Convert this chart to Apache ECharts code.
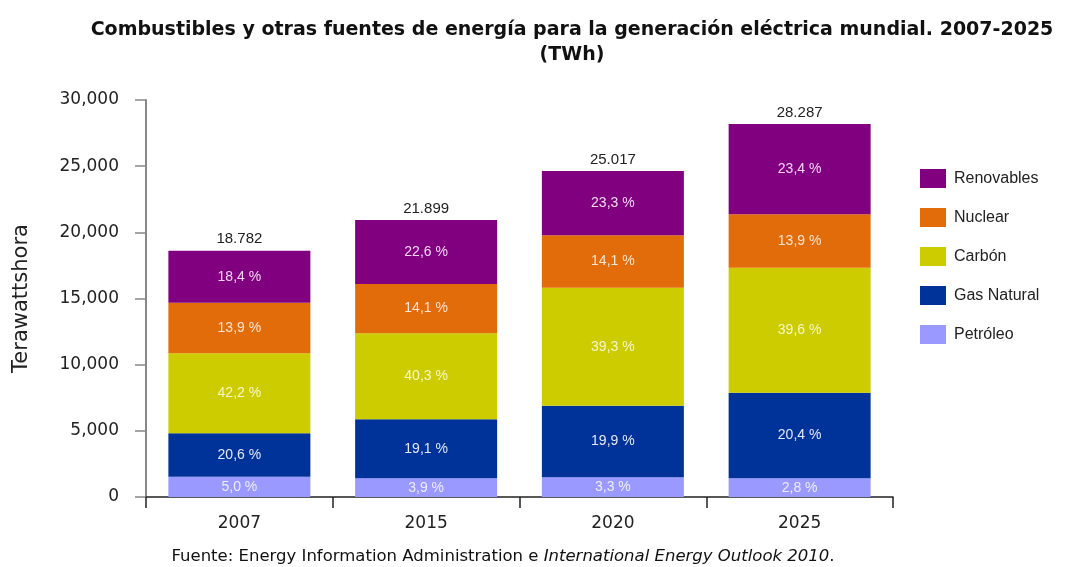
<!DOCTYPE html>
<html>
<head>
<meta charset="utf-8">
<script src="https://cdn.jsdelivr.net/npm/echarts@6/dist/echarts.min.js"></script>
<style>
  html, body { margin: 0; padding: 0; background: #fff; }
  #chart { width: 1078px; height: 567px; }
</style>
</head>
<body>
<div id="chart"></div>
<script>
// values (TWh)
const years = ['2007', '2015', '2020', '2025'];
const petroleo = [1530, 1410, 1490, 1410];
const gasNatural = [3280, 4460, 5410, 6470];
const carbon = [6050, 6500, 8920, 9450];
const nuclear = [3820, 3730, 3960, 4030];
const renovables = [3930, 4830, 4860, 6830];

// text printed on the chart
const totals = ['18.782', '21.899', '25.017', '28.287'];
const pctPetroleo = ['5,0 %', '3,9 %', '3,3 %', '2,8 %'];
const pctGas = ['20,6 %', '19,1 %', '19,9 %', '20,4 %'];
const pctCarbon = ['42,2 %', '40,3 %', '39,3 %', '39,6 %'];
const pctNuclear = ['13,9 %', '14,1 %', '14,1 %', '13,9 %'];
const pctRenovables = ['18,4 %', '22,6 %', '23,3 %', '23,4 %'];
const yTicks = [0, 5000, 10000, 15000, 20000, 25000, 30000];

const labelFont = '"Liberation Sans", Arial, sans-serif';
const axisFont = '"DejaVu Sans", sans-serif';

function segment(name, data, pct, color, labelColor) {
  return {
    name: name,
    type: 'bar',
    stack: 'total',
    barWidth: 142,
    data: data,
    itemStyle: { color: color },
    label: {
      show: true,
      position: 'inside',
      color: labelColor,
      fontFamily: labelFont,
      fontSize: 14,
      formatter: (p) => pct[p.dataIndex]
    },
    emphasis: { disabled: true }
  };
}

const chart = echarts.init(document.getElementById('chart'), null, { renderer: 'canvas' });

chart.setOption({
  animation: false,
  backgroundColor: '#ffffff',
  title: [
    {
      text: 'Combustibles y otras fuentes de energía para la generación eléctrica mundial. 2007-2025\n(TWh)',
      left: 567,
      top: 13,
      textAlign: 'center',
      textStyle: {
        fontFamily: axisFont,
        fontWeight: 'bold',
        fontSize: 19,
        lineHeight: 25,
        color: '#111'
      }
    },
    {
      text: '{n|Fuente: Energy Information Administration e }{i|International Energy Outlook 2010}{n|.}',
      left: 503,
      top: 548,
      padding: 0,
      textAlign: 'center',
      textStyle: {
        fontWeight: 'normal',
        rich: {
          n: { fontFamily: axisFont, fontSize: 16.5, fontWeight: 'normal', color: '#111' },
          i: { fontFamily: axisFont, fontSize: 16.5, fontWeight: 'normal', fontStyle: 'italic', color: '#111' }
        }
      }
    }
  ],
  legend: {
    orient: 'vertical',
    left: 920,
    top: 169,
    padding: 0,
    itemWidth: 26,
    itemHeight: 19,
    itemGap: 20,
    icon: 'rect',
    selectedMode: false,
    data: ['Renovables', 'Nuclear', 'Carbón', 'Gas Natural', 'Petróleo'],
    textStyle: { fontFamily: labelFont, fontSize: 16, color: '#222', padding: [0, 0, 0, 3] }
  },
  grid: { left: 146, right: 185, top: 100, bottom: 70 },
  xAxis: {
    type: 'category',
    data: years,
    axisLine: { lineStyle: { color: '#222', width: 1.5 } },
    axisTick: { show: true, length: 11, lineStyle: { color: '#222', width: 1.5 } },
    axisLabel: { fontFamily: axisFont, fontSize: 17, color: '#222', margin: 18 }
  },
  yAxis: {
    type: 'value',
    min: 0,
    max: 30000,
    interval: 5000,
    name: 'Terawattshora',
    nameLocation: 'middle',
    nameGap: 114,
    nameTextStyle: { fontFamily: axisFont, fontSize: 21, color: '#222' },
    axisLine: { show: true, lineStyle: { color: '#888', width: 2 } },
    axisTick: { show: true, length: 11, lineStyle: { color: '#888', width: 1.5 } },
    splitLine: { show: false },
    axisLabel: {
      fontFamily: axisFont,
      fontSize: 17,
      color: '#222',
      margin: 27,
      formatter: (v) => yTicks.indexOf(v) >= 0 ? v.toLocaleString('en-US') : ''
    }
  },
  series: [
    segment('Petróleo', petroleo, pctPetroleo, '#9999ff', '#eeeeff'),
    segment('Gas Natural', gasNatural, pctGas, '#003399', '#e4e8f6'),
    segment('Carbón', carbon, pctCarbon, '#cccc00', '#f6f6cc'),
    segment('Nuclear', nuclear, pctNuclear, '#e36c0a', '#fbe6d6'),
    segment('Renovables', renovables, pctRenovables, '#800080', '#f3d8f3'),
    {
      name: 'total',
      type: 'bar',
      stack: 'total',
      barWidth: 142,
      data: [0, 0, 0, 0],
      itemStyle: { color: 'transparent' },
      label: {
        show: true,
        position: 'top',
        distance: 4,
        color: '#222',
        fontFamily: labelFont,
        fontSize: 15,
        formatter: (p) => totals[p.dataIndex]
      },
      emphasis: { disabled: true }
    }
  ]
});
</script>
</body>
</html>
